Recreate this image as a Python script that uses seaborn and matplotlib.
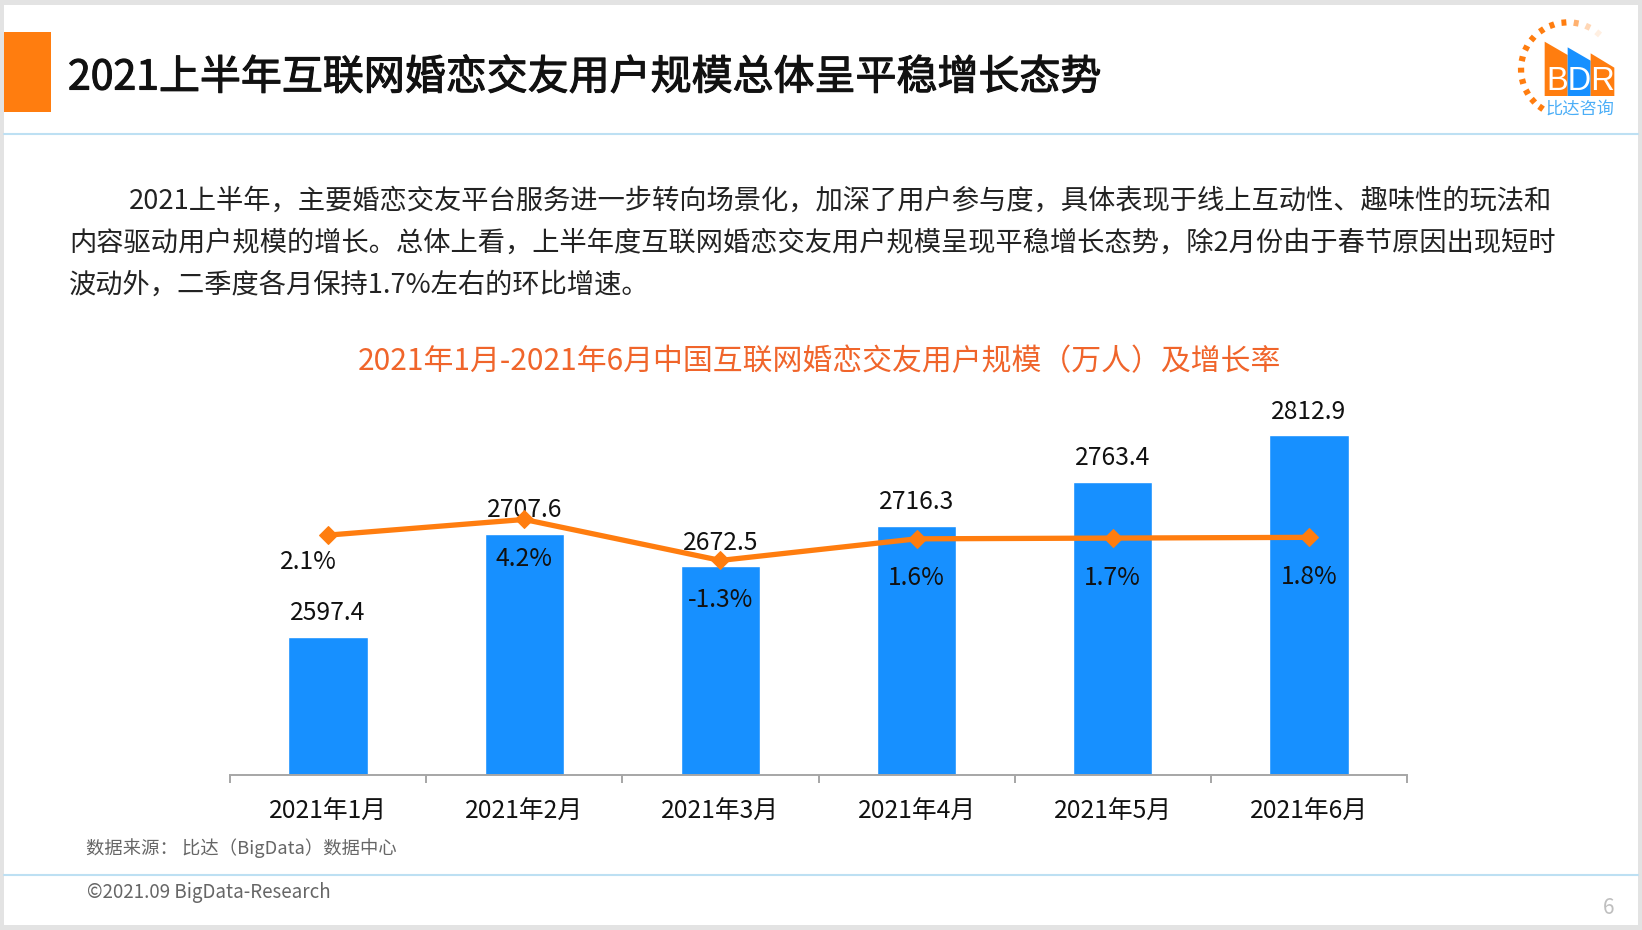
import numpy as np
import pandas as pd
import matplotlib.pyplot as plt
import matplotlib.patheffects as pe
from matplotlib.patches import Polygon, Rectangle
import seaborn as sns

months = ['2021年1月', '2021年2月', '2021年3月', '2021年4月', '2021年5月', '2021年6月']
users = [2597.4, 2707.6, 2672.5, 2716.3, 2763.4, 2812.9]
growth = [2.1, 4.2, -1.3, 1.6, 1.7, 1.8]
growth_labels = ['2.1%', '4.2%', '-1.3%', '1.6%', '1.7%', '1.8%']

title = '2021上半年互联网婚恋交友用户规模总体呈平稳增长态势'
para = [
    '2021上半年，主要婚恋交友平台服务进一步转向场景化，加深了用户参与度，具体表现于线上互动性、趣味性的玩法和',
    '内容驱动用户规模的增长。总体上看，上半年度互联网婚恋交友用户规模呈现平稳增长态势，除2月份由于春节原因出现短时',
    '波动外，二季度各月保持1.7%左右的环比增速。',
]
chart_title = '2021年1月-2021年6月中国互联网婚恋交友用户规模（万人）及增长率'
source = '数据来源： 比达（BigData）数据中心'
copyright_text = '©2021.09 BigData-Research'

ORANGE = '#FF7D0F'
BLUE = '#1790FF'
W, H = 1642, 930

sns.set_theme(style='white')
plt.rcParams['font.family'] = ['Noto Sans CJK SC', 'DejaVu Sans']

fig = plt.figure(figsize=(W / 100, H / 100), dpi=100, facecolor='#E3E3E3')

# slide background and decorations, in pixel coordinates
bg = fig.add_axes([0, 0, 1, 1], zorder=0)
bg.set_xlim(0, W)
bg.set_ylim(H, 0)
bg.axis('off')
bg.add_patch(Rectangle((4, 5), 1634, 920, fc='white', ec='none'))
bg.add_patch(Rectangle((4, 32), 47, 80, fc=ORANGE, ec='none'))
bg.plot([4, 1638], [134.5, 134.5], color='#BDE0F3', lw=1.5)
bg.plot([4, 1638], [874.5, 874.5], color='#BDE0F3', lw=1.5)

title_txt = bg.text(68, 78, title, fontsize=29.5, color='#111111', va='center')
title_txt.set_path_effects([pe.withStroke(linewidth=0.8, foreground='#111111')])
bg.text(129, 201, para[0], fontsize=19.66, color='#222222', va='center')
bg.text(69, 243, para[1], fontsize=19.6, color='#222222', va='center')
bg.text(69, 285, para[2], fontsize=19.6, color='#222222', va='center')
bg.text(819, 362, chart_title, fontsize=21.5, color='#F0652B', ha='center', va='center')
bg.text(86, 848, source, fontsize=13.2, color='#666666', va='center')
bg.text(87, 892, copyright_text, fontsize=13.5, color='#666666', va='center')
bg.text(1609, 908, '6', fontsize=15, color='#BFBFBF', ha='center', va='center')

# logo
lx, ly = 1442, 0
for pts, col in [
    ([(308, 125), (377, 165), (377, 288), (308, 288)], ORANGE),
    ([(377, 142), (446, 182), (446, 288), (377, 288)], BLUE),
    ([(446, 160), (517, 203), (517, 288), (446, 288)], ORANGE),
]:
    bg.add_patch(Polygon([(lx + a / 3, ly + b / 3) for a, b in pts], fc=col, ec='none'))
bg.text(lx + 415 / 3, 246 / 3, 'BDR', fontsize=23.5, color='white', ha='center', va='center',
        family='Liberation Sans')
bg.text(lx + 413 / 3, 325 / 3, '比达咨询', fontsize=12.4, color='#4BAEF7', ha='center', va='center')
cx, cy, r = lx + 378 / 3, 208 / 3, 47
dash_angles = [125, 138, 151, 165, 179, 193, 207, 221, 236, 250, 265, 280, 295, 310]
dash_alpha = [1, 1, 1, 1, 1, 1, 1, 1, 1, 1, 1, .6, .3, .12]
for ang, al in zip(dash_angles, dash_alpha):
    t = np.radians([ang - 3, ang + 3])
    bg.plot(cx + r * np.cos(t), cy + r * np.sin(t), color=ORANGE, lw=4.5,
            alpha=al, solid_capstyle='butt')

# chart
df = pd.DataFrame({'month': months, 'users': users, 'growth': growth})
top_px, base_px, left_px, right_px = 420, 775, 230, 1407
ax = fig.add_axes([left_px / W, 1 - base_px / H, (right_px - left_px) / W, (base_px - top_px) / H],
                  zorder=1)
ax.patch.set_alpha(0)
sns.barplot(data=df, x='month', y='users', color=BLUE, width=0.405, saturation=1, ax=ax)
ax.set_xlim(-0.5, 5.5)
ax.set_ylim(2449, 2829.5)
ax.set_xlabel('')
ax.set_ylabel('')
ax.set_yticks([])
sns.despine(ax=ax, left=True)
ax.spines['bottom'].set_color('#A6A6A6')
ax.spines['bottom'].set_linewidth(1.4)
ax.set_xticks(np.arange(-0.5, 6), minor=True)
ax.tick_params(axis='x', which='minor', bottom=True, length=6, width=1.4, color='#A6A6A6')
ax.tick_params(axis='x', which='major', bottom=False, pad=11, labelsize=17.8, labelcolor='#111111')
ax.bar_label(ax.containers[0], labels=[f'{v:.1f}' for v in users], padding=7.5, fontsize=17.8,
             color='#111111')

ax2 = ax.twinx()
ax2.set_zorder(2)
sns.lineplot(data=df, x='month', y='growth', color=ORANGE, lw=3.8, marker='D', markersize=9,
             markeredgecolor=ORANGE, sort=False, ax=ax2)
ax2.set_xlim(-0.5, 5.5)
ax2.set_ylim(-30.1, 17.55)
ax2.set_yticks([])
ax2.set_xlabel('')
ax2.set_ylabel('')
for s in ax2.spines.values():
    s.set_visible(False)

offsets = [(-14, -19.5), (0, -28.5), (0, -28.5), (0, -28.5), (0, -28.5), (0, -28.5)]
for i, lab in enumerate(growth_labels):
    ax2.annotate(lab, (i, growth[i]), xytext=offsets[i], textcoords='offset points',
                 ha='center', va='center', fontsize=17.8, color='#111111')

fig.savefig('out.png', dpi=100, facecolor=fig.get_facecolor())
